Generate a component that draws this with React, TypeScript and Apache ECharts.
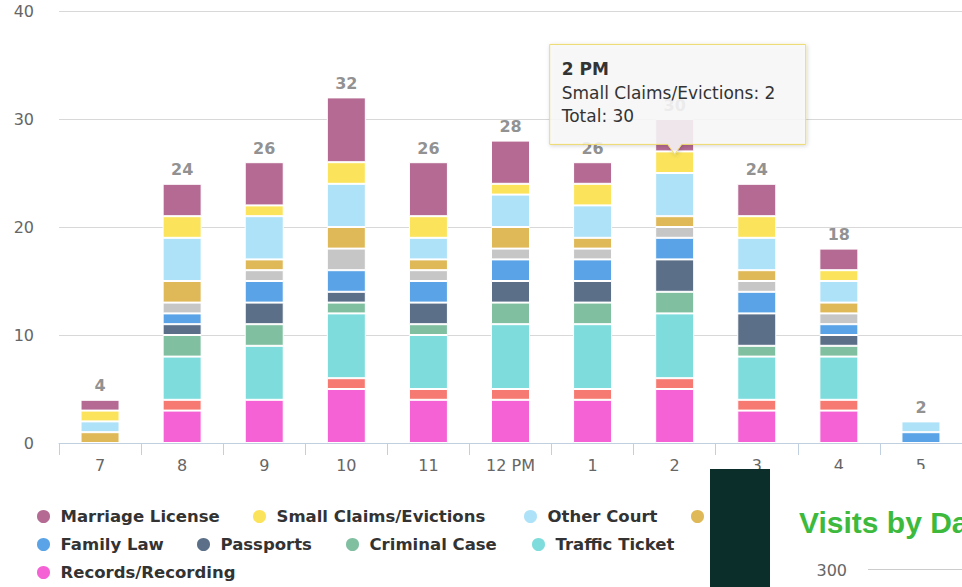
import React, { useEffect, useRef } from 'react';
import * as echarts from 'echarts';

// ---- data ----
const categories = ['7', '8', '9', '10', '11', '12 PM', '1', '2', '3', '4', '5'];
const yMax = 40;
const yInterval = 10;

const recordsRecording = [0, 3, 4, 5, 4, 4, 4, 5, 3, 3, 0];
const paymentsHidden = [0, 1, 0, 1, 1, 1, 1, 1, 1, 1, 0]; // salmon series, legend entry hidden in source
const trafficTicket = [0, 4, 5, 6, 5, 6, 6, 6, 4, 4, 0];
const criminalCase = [0, 2, 2, 1, 1, 2, 2, 2, 1, 1, 0];
const passports = [0, 1, 2, 1, 2, 2, 2, 3, 3, 1, 0];
const familyLaw = [0, 1, 2, 2, 2, 2, 2, 2, 2, 1, 1];
const juryHidden = [0, 1, 1, 2, 1, 1, 1, 1, 1, 1, 0]; // gray series, legend entry hidden in source
const probateHidden = [1, 2, 1, 2, 1, 2, 1, 1, 1, 1, 0]; // gold series, legend text hidden in source
const otherCourt = [1, 4, 4, 4, 2, 3, 3, 4, 3, 2, 1];
const smallClaims = [1, 2, 1, 2, 2, 1, 2, 2, 2, 1, 0];
const marriageLicense = [1, 3, 4, 6, 5, 4, 2, 3, 3, 2, 0];

// hovered point shown in the tooltip
const hoverCategory = '2';
const hoverTitle = '2 PM';
const hoverSeries = 'Small Claims/Evictions';

const stackOrder = [
  { name: 'Records/Recording', data: recordsRecording, color: '#f462d5' },
  { name: 'Payments', data: paymentsHidden, color: '#f67a72' },
  { name: 'Traffic Ticket', data: trafficTicket, color: '#7edcdc' },
  { name: 'Criminal Case', data: criminalCase, color: '#80bfa0' },
  { name: 'Passports', data: passports, color: '#5c6f88' },
  { name: 'Family Law', data: familyLaw, color: '#5aa3e6' },
  { name: 'Jury Service', data: juryHidden, color: '#c6c6c6' },
  { name: 'Probate', data: probateHidden, color: '#dfb857' },
  { name: 'Other Court', data: otherCourt, color: '#aee2f8' },
  { name: 'Small Claims/Evictions', data: smallClaims, color: '#fbe45b' },
  { name: 'Marriage License', data: marriageLicense, color: '#b46a92' },
];

const totals = categories.map((_, i) => stackOrder.reduce((a, s) => a + s.data[i], 0));

// legend layout: [name, text start x, row center y]
const legendItems: [string, number, number][] = [
  ['Marriage License', 64, 516],
  ['Small Claims/Evictions', 280, 516],
  ['Other Court', 551, 516],
  ['Probate', 718, 516],
  ['Family Law', 64, 544],
  ['Passports', 224, 544],
  ['Criminal Case', 373, 544],
  ['Traffic Ticket', 559, 544],
  ['Records/Recording', 64, 572],
];
const visibleLegendText = new Set([
  'Marriage License', 'Small Claims/Evictions', 'Other Court', 'Family Law',
  'Passports', 'Criminal Case', 'Traffic Ticket', 'Records/Recording',
]);

const FONT = "'DejaVu Sans', 'Open Sans', sans-serif";

export default function App() {
  const ref = useRef<HTMLDivElement>(null);
  useEffect(() => {
    const chart = echarts.init(ref.current!, null, { renderer: 'svg' });
    const ICON_W = 24;
    const option: any = {
      animation: false,
      backgroundColor: '#ffffff',
      grid: { left: 59, top: 11, width: 906, height: 432 },
      xAxis: {
        type: 'category',
        data: categories,
        axisLine: { lineStyle: { color: '#c0d0e0', width: 1 } },
        axisTick: { show: true, length: 12, lineStyle: { color: '#c0d0e0' } },
        axisLabel: { color: '#666666', fontSize: 16, margin: 14, fontFamily: FONT },
        splitLine: { show: false },
      },
      yAxis: {
        type: 'value',
        min: 0,
        max: yMax,
        interval: yInterval,
        axisLine: { show: false },
        axisTick: { show: false },
        axisLabel: { color: '#666666', fontSize: 16, margin: 25, fontFamily: FONT },
        splitLine: { lineStyle: { color: '#d8d8d8', width: 1 } },
      },
      legend: legendItems.map(([name, tx, cy]) => ({
        data: [name],
        left: tx - ICON_W - 5,
        top: cy - 8,
        padding: 0,
        itemWidth: ICON_W,
        itemHeight: 15,
        icon: 'circle',
        selectedMode: false,
        formatter: (n: string) => (visibleLegendText.has(n) ? n : ''),
        textStyle: { fontFamily: FONT, fontWeight: 'bold', fontSize: 16.5, color: '#333333', lineHeight: 16 },
      })),
      series: [
        ...stackOrder.map((s) => ({
          name: s.name,
          type: 'bar',
          stack: 'visits',
          barWidth: 39,
          color: s.color,
          itemStyle: { color: s.color, borderColor: '#ffffff', borderWidth: 1 },
          emphasis: { disabled: true },
          data: s.data.map((v) => (v === 0 ? null : v)),
        })),
        {
          name: 'Total',
          type: 'scatter',
          symbolSize: 0,
          silent: true,
          data: totals,
          label: {
            show: true,
            position: 'top',
            distance: 6,
            color: '#747474',
            fontWeight: 'bold',
            fontSize: 16,
            fontFamily: FONT,
            formatter: (p: any) => String(p.value),
          },
          z: 5,
        },
      ],
    };
    chart.setOption(option);

    // tooltip overlay anchored to the hovered point
    const ci = categories.indexOf(hoverCategory);
    const si = stackOrder.findIndex((s) => s.name === hoverSeries);
    const cum = stackOrder.slice(0, si + 1).reduce((a, s) => a + s.data[ci], 0);
    const hv = stackOrder[si].data[ci];
    const [px, py] = chart.convertToPixel({ gridIndex: 0 }, [ci, cum]) as number[];
    const tipY = py + 3;
    const B = tipY - 10;
    const T = B - 100;
    const L = px - 125;
    const R = L + 256;
    const graphic: any[] = [
      {
        type: 'polygon',
        z: 100,
        shape: {
          points: [[L, T], [R, T], [R, B], [px + 7, B], [px, tipY], [px - 7, B], [L, B]],
        },
        style: {
          fill: 'rgba(249,249,249,0.86)',
          stroke: '#eedb6c',
          lineWidth: 1,
          shadowBlur: 4,
          shadowOffsetX: 1,
          shadowOffsetY: 1,
          shadowColor: 'rgba(0,0,0,0.18)',
        },
      },
      {
        type: 'text', z: 101, x: L + 12, y: T + 25,
        style: { text: hoverTitle, font: `bold 17px ${FONT}`, fill: '#333333', verticalAlign: 'middle' },
      },
      {
        type: 'text', z: 101, x: L + 12, y: T + 49,
        style: { text: `${hoverSeries}: ${hv}`, font: `17px ${FONT}`, fill: '#333333', verticalAlign: 'middle' },
      },
      {
        type: 'text', z: 101, x: L + 12, y: T + 72,
        style: { text: `Total: ${totals[ci]}`, font: `17px ${FONT}`, fill: '#333333', verticalAlign: 'middle' },
      },
      // neighbouring screenshot panels overlapping the bottom right
      { type: 'rect', z: 110, shape: { x: 710, y: 469, width: 60, height: 118 }, style: { fill: '#0b2e2b' } },
      { type: 'rect', z: 110, shape: { x: 770, y: 469, width: 192, height: 118 }, style: { fill: '#ffffff' } },
      {
        type: 'text', z: 111, x: 799, y: 522,
        style: { text: 'Visits by Da', font: "bold 30px 'Liberation Sans', Arial, sans-serif", fill: '#3dba3d', verticalAlign: 'middle' },
      },
      {
        type: 'text', z: 111, x: 847, y: 570,
        style: { text: '300', font: `16px ${FONT}`, fill: '#666666', align: 'right', verticalAlign: 'middle' },
      },
      { type: 'line', z: 111, shape: { x1: 868, y1: 569.5, x2: 962, y2: 569.5 }, style: { stroke: '#cccccc', lineWidth: 1 } },
    ];
    chart.setOption({ graphic });

    return () => chart.dispose();
  }, []);
  return (
    <div
      ref={ref}
      style={{ position: 'fixed', left: 0, top: 0, width: 962, height: 587, background: '#fff' }}
    />
  );
}
